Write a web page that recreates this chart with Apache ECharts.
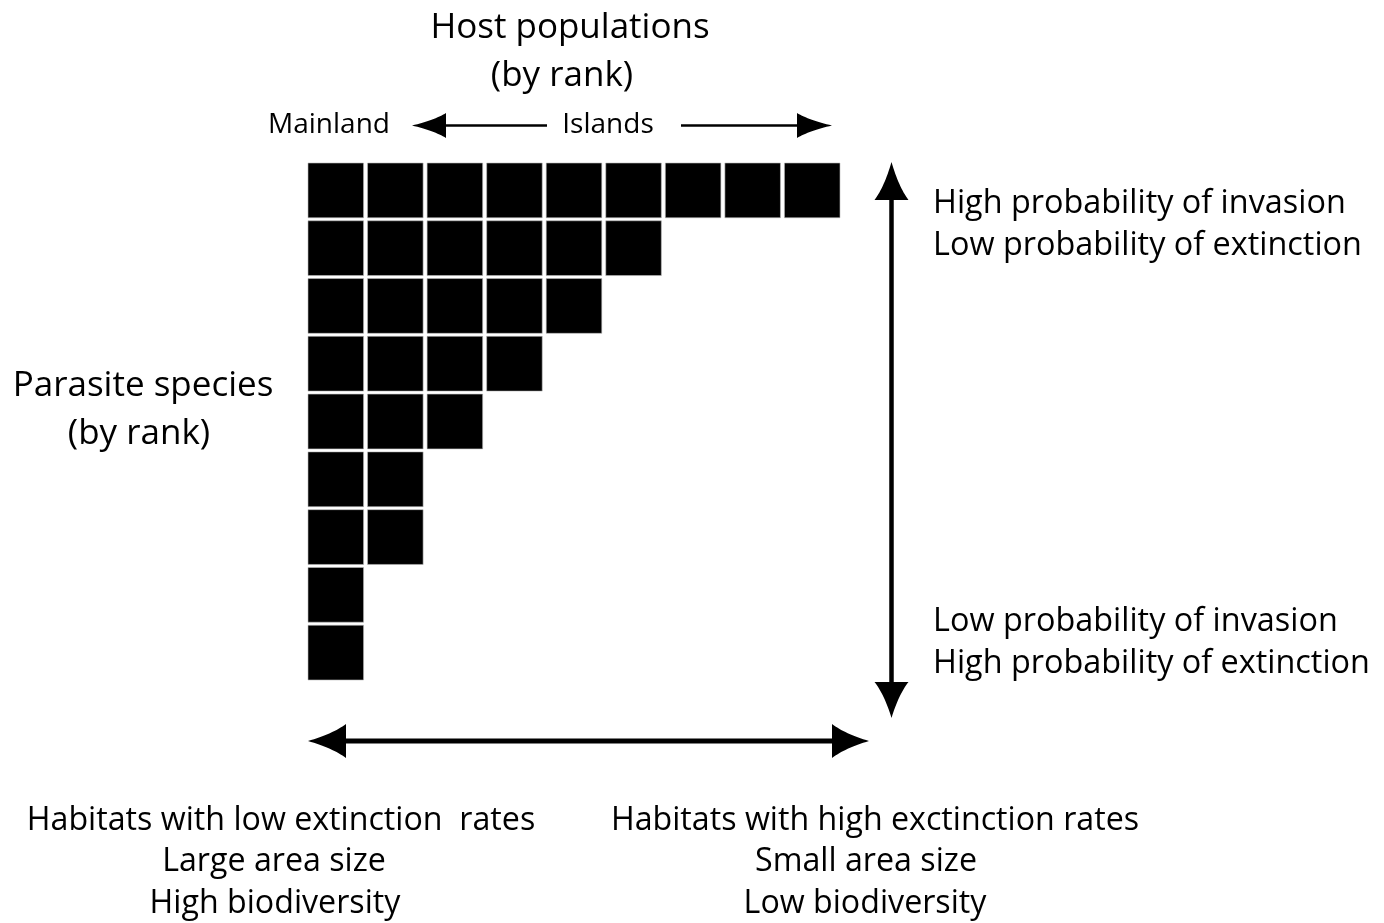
<!DOCTYPE html>
<html>
<head>
<meta charset="utf-8">
<script src="https://cdn.jsdelivr.net/npm/echarts@6/dist/echarts.min.js"></script>
<style>
html,body{margin:0;padding:0;background:#fff;}
#chart{width:1384px;height:923px;}
</style>
</head>
<body>
<div id="chart"></div>
<script>
// ---- data ----
var hostRanks = ['1','2','3','4','5','6','7','8','9'];
var parasiteRanks = ['1','2','3','4','5','6','7','8','9'];
// number of host populations occupied by each parasite species (by rank)
var occupiedCounts = [9, 6, 5, 4, 3, 2, 2, 1, 1];

var titleLines = ['Host populations', '(by rank)'];
var yTitleLines = ['Parasite species', '(by rank)'];
var topRightLines = ['High probability of invasion', 'Low probability of extinction'];
var bottomRightLines = ['Low probability of invasion', 'High probability of extinction'];
var bottomLeftLines = ['Habitats with low extinction  rates', 'Large area size', 'High biodiversity'];
var bottomRightHabLines = ['Habitats with high exctinction rates', 'Small area size', 'Low biodiversity'];

var cells = [];
occupiedCounts.forEach(function (n, row) {
  for (var c = 0; c < n; c++) cells.push([c, row]);
});

var FONT = '"Open Sans", "Noto Sans", sans-serif';

function arrowHead(tx, ty, dx, dy, L, H) {
  var nx = -dy, ny = dx;
  var bx = tx - L * dx, by = ty - L * dy;
  var c1 = [bx + H * nx, by + H * ny];
  var c2 = [bx - H * nx, by - H * ny];
  var k1 = [tx - 0.65 * L * dx + 0.42 * H * nx, ty - 0.65 * L * dy + 0.42 * H * ny];
  var k2 = [tx - 0.65 * L * dx - 0.42 * H * nx, ty - 0.65 * L * dy - 0.42 * H * ny];
  var N = 16, i, t, a = [], b = [];
  for (i = 0; i <= N; i++) {
    t = i / N;
    a.push([(1-t)*(1-t)*tx + 2*(1-t)*t*k1[0] + t*t*c1[0], (1-t)*(1-t)*ty + 2*(1-t)*t*k1[1] + t*t*c1[1]]);
  }
  for (i = N; i >= 0; i--) {
    t = i / N;
    b.push([(1-t)*(1-t)*tx + 2*(1-t)*t*k2[0] + t*t*c2[0], (1-t)*(1-t)*ty + 2*(1-t)*t*k2[1] + t*t*c2[1]]);
  }
  return {
    type: 'polygon',
    shape: { points: a.concat(b) },
    style: { fill: '#000' },
    silent: true
  };
}

function line(x1, y1, x2, y2, w) {
  return { type: 'line', shape: { x1: x1, y1: y1, x2: x2, y2: y2 }, style: { stroke: '#000', lineWidth: w }, silent: true };
}

function txt(x, y, s, size, align) {
  return {
    type: 'text', x: x, y: y, silent: true,
    style: { text: s, fill: '#000', font: size + 'px ' + FONT, textAlign: align || 'center', textVerticalAlign: 'middle' }
  };
}

var graphics = [];
// top arrows
graphics.push(line(440, 125.5, 547, 125.5, 2.5));
graphics.push(arrowHead(412, 125.5, -1, 0, 34, 12.5));
graphics.push(line(681, 125.5, 805, 125.5, 2.5));
graphics.push(arrowHead(832, 125.5, 1, 0, 35, 12.5));
// vertical arrow
graphics.push(line(891.5, 190, 891.5, 690, 4.5));
graphics.push(arrowHead(891.5, 162, 0, -1, 38, 17));
graphics.push(arrowHead(891.5, 718, 0, 1, 36, 17));
// horizontal bottom arrow
graphics.push(line(335, 741, 845, 741, 5));
graphics.push(arrowHead(308, 741, -1, 0, 38, 17));
graphics.push(arrowHead(869, 741, 1, 0, 37, 17));

// texts
var D = 3;
graphics.push(txt(570, 25 + D, titleLines[0], 35));
graphics.push(txt(562, 73 + D, titleLines[1], 35));
graphics.push(txt(329, 122 + D, 'Mainland', 28));
graphics.push(txt(608, 122 + D, 'Islands', 28));
graphics.push(txt(143, 383 + D, yTitleLines[0], 35));
graphics.push(txt(139, 431 + D, yTitleLines[1], 35));
graphics.push(txt(933, 201 + D, topRightLines[0], 32.4, 'left'));
graphics.push(txt(933, 243 + D, topRightLines[1], 32.4, 'left'));
graphics.push(txt(933, 619 + D, bottomRightLines[0], 32.4, 'left'));
graphics.push(txt(933, 661 + D, bottomRightLines[1], 32.4, 'left'));
var blx = [281, 274, 275], brx = [875, 866, 865], by = [818, 859, 901];
for (var i = 0; i < 3; i++) {
  graphics.push(txt(blx[i], by[i] + D, bottomLeftLines[i], 32.2));
  graphics.push(txt(brx[i], by[i] + D, bottomRightHabLines[i], 32.2));
}

var chart = echarts.init(document.getElementById('chart'), null, { renderer: 'canvas' });
chart.setOption({
  animation: false,
  backgroundColor: '#fff',
  grid: { left: 308, top: 163, width: 536, height: 520, containLabel: false },
  xAxis: { type: 'category', data: hostRanks, show: false, boundaryGap: true },
  yAxis: { type: 'category', data: parasiteRanks, inverse: true, show: false, boundaryGap: true },
  series: [{
    type: 'custom',
    data: cells,
    encode: { x: 0, y: 1 },
    renderItem: function (params, api) {
      var p = api.coord([api.value(0), api.value(1)]);
      var s = api.size([1, 1]);
      var x0 = p[0] - s[0] / 2, y0 = p[1] - s[1] / 2;
      return {
        type: 'rect',
        shape: { x: x0, y: y0, width: s[0] - 4, height: s[1] - 3 },
        style: { fill: '#000', stroke: '#bbb', lineWidth: 0.6 }
      };
    }
  }],
  graphic: graphics
});
</script>
</body>
</html>
